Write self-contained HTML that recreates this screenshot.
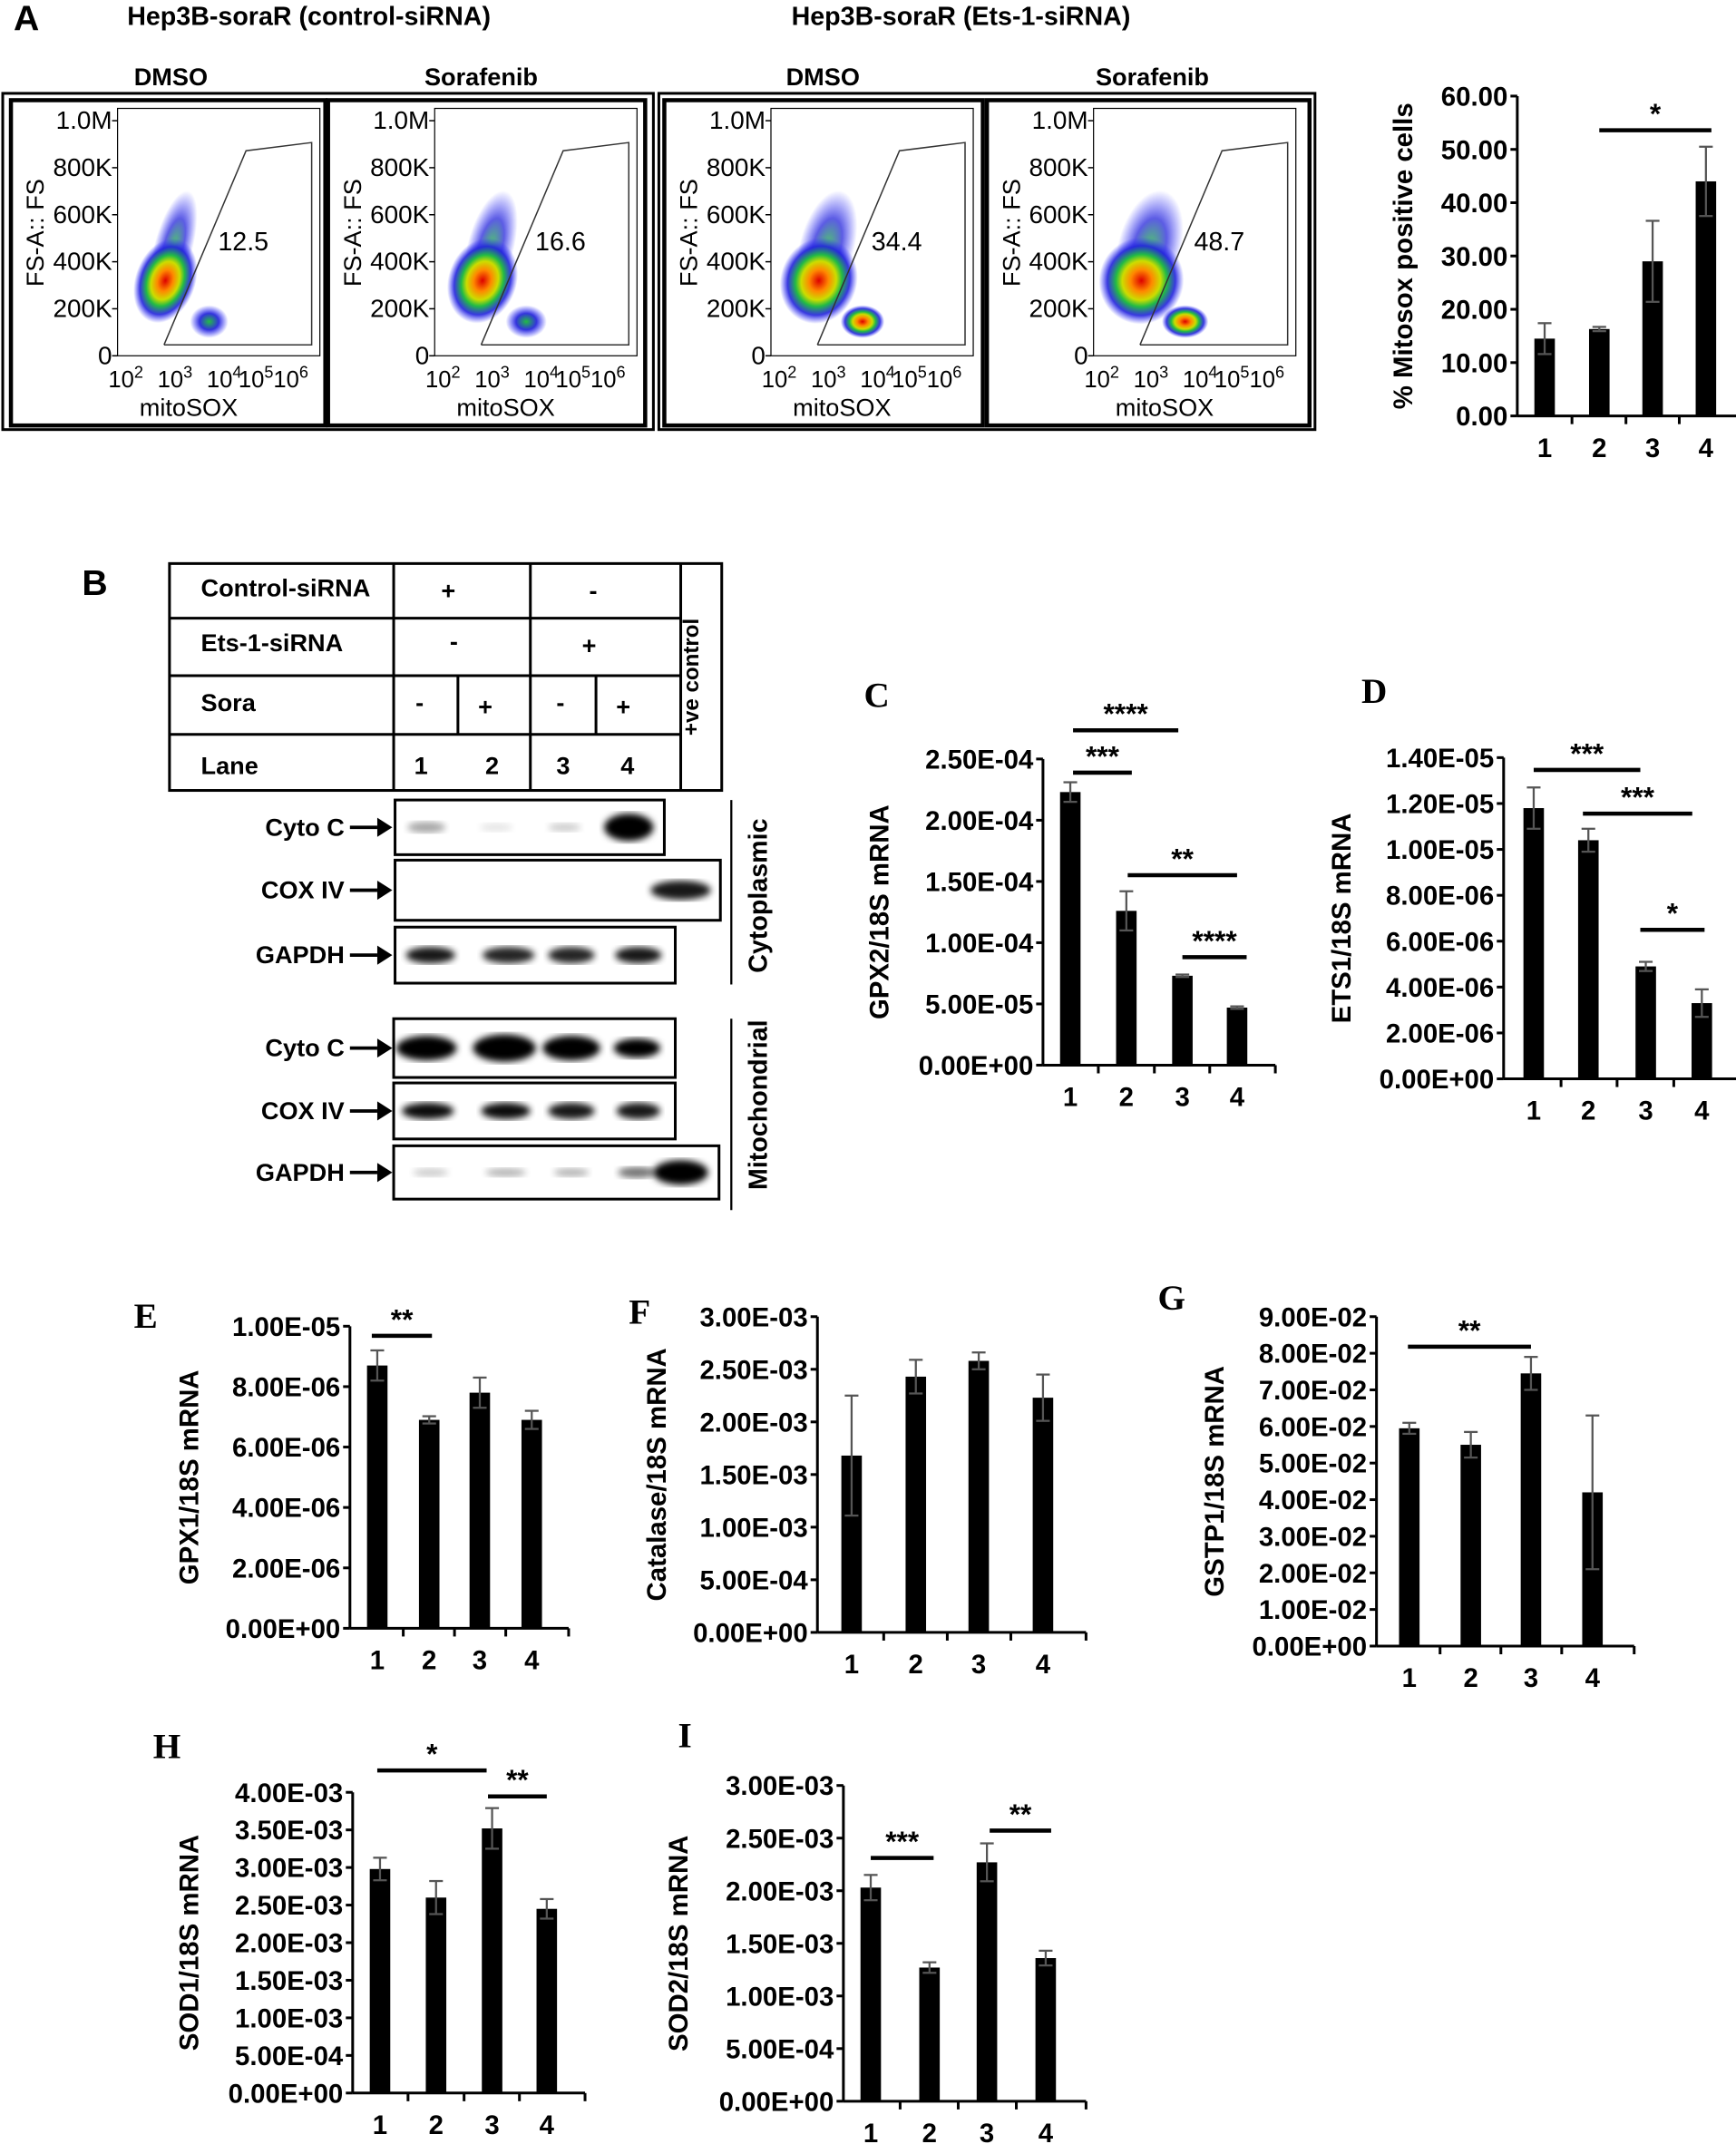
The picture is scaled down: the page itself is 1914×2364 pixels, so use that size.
<!DOCTYPE html>
<html><head><meta charset="utf-8"><style>html,body{margin:0;padding:0;background:#fff;}svg{display:block}</style></head>
<body>
<svg id="s" xmlns="http://www.w3.org/2000/svg" width="1914" height="2364" viewBox="0 0 1270 1568" font-family="Liberation Sans, Arial, sans-serif">
<defs>
<radialGradient id="blob"><stop offset="0" stop-color="#d00"/><stop offset="0.25" stop-color="#f80"/><stop offset="0.45" stop-color="#cd0"/><stop offset="0.6" stop-color="#2b4"/><stop offset="0.8" stop-color="#22d" stop-opacity="0.9"/><stop offset="1" stop-color="#33f" stop-opacity="0"/></radialGradient>
<radialGradient id="blob2"><stop offset="0" stop-color="#2b4"/><stop offset="0.5" stop-color="#33d"/><stop offset="1" stop-color="#33f" stop-opacity="0"/></radialGradient>
<filter id="bl"><feGaussianBlur stdDeviation="2.5"/></filter>
</defs>
<g id="g"></g>
</svg>
<script>
var o='';
function T(x,y,t,sz,opt){opt=opt||{};o+='<text x="'+x+'" y="'+y+'" font-size="'+sz+'" text-anchor="'+(opt.a||'middle')+'"'+(opt.b===false?'':' font-weight="bold"')+(opt.f?' font-family="'+opt.f+'"':'')+(opt.r?' transform="rotate(-90 '+x+' '+y+')"':'')+'>'+t+'</text>';}
function L(x1,y1,x2,y2,w,c){o+='<line x1="'+x1+'" y1="'+y1+'" x2="'+x2+'" y2="'+y2+'" stroke="'+(c||'#000')+'" stroke-width="'+(w||1)+'"/>';}
function R(x,y,w,h,sw,fill){o+='<rect x="'+x+'" y="'+y+'" width="'+w+'" height="'+h+'" fill="'+(fill||'none')+'" stroke="'+(sw?'#000':'none')+'" stroke-width="'+(sw||0)+'"/>';}
// Panel A
T(10,22,'A',26,{a:'start'});
T(226,18,'Hep3B-soraR (control-siRNA)',19);
T(703,18,'Hep3B-soraR (Ets-1-siRNA)',19);
T(125,62,'DMSO',18);T(352,62,'Sorafenib',18);T(602,62,'DMSO',18);T(843,62,'Sorafenib',18);
R(2,68,476,246,2);R(482,68,480,246,2);
var flows=[[8,238,'12.5',0],[240,472,'16.6',1],[486,719,'34.4',2],[722,958,'48.7',3]];
flows.forEach(function(f){
 var x0=f[0];R(x0,73,f[1]-x0,238,3);
 var ax=x0+78, fr=x0+226;
 R(ax,79,fr-ax,181,0.8);
 var labs=['1.0M','800K','600K','400K','200K','0'];
 for(var i=0;i<6;i++){var y=88+i*34.4;T(ax-4,y+6,labs[i],18.5,{a:'end',b:false});L(ax-4,y,ax,y,1);}
 T(x0+24,170,'FS-A:: FS',18,{r:1,b:false});
 var bx=ax+35, k=f[3];
 o+='<ellipse cx="'+(bx+6)+'" cy="180" rx="'+(14+k*3)+'" ry="42" fill="url(#blob2)" opacity="0.8" transform="rotate(15 '+(bx+6)+' 180)"/>';
 o+='<ellipse cx="'+bx+'" cy="205" rx="'+(22+k*3)+'" ry="32" fill="url(#blob)" transform="rotate(20 '+bx+' 205)"/>';
 o+='<ellipse cx="'+(bx+32)+'" cy="235" rx="'+(14+k)+'" ry="12" fill="url('+(k>=2?'#blob':'#blob2')+')"/>';
 var gx=ax+34;
 o+='<polyline points="'+gx+',252 '+(gx+60)+',110 '+(fr-6)+',104 '+(fr-6)+',252 '+gx+',252" fill="none" stroke="#333" stroke-width="1"/>';
 T(gx+58,183,f[2],19,{b:false});
 T(ax+6,283,'10<tspan font-size="12" dy="-7">2</tspan>',17,{b:false});
 T(ax+42,283,'10<tspan font-size="12" dy="-7">3</tspan>',17,{b:false});
 T(ax+78,283,'10<tspan font-size="12" dy="-7">4</tspan>',17,{b:false});
 T(ax+114,283,'10<tspan font-size="12" dy="-7">5</tspan><tspan dy="7">10</tspan><tspan font-size="12" dy="-7">6</tspan>',17,{b:false});
 T(ax+52,304,'mitoSOX',18,{b:false});
});
function bar(p){
 var ax=p.ax,top=p.top,bot=p.bot,n=p.labs.length-1,step=(bot-top)/n;
 L(ax,top,ax,bot,2);
 for(var i=0;i<=n;i++){var y=top+i*step;L(ax-5,y,ax,y,2);T(ax-7,y+7,p.labs[i],p.fs||19.5,{a:'end'});}
 var xs=p.xs,end=xs[3]+(xs[3]-xs[2])/2+8;L(ax,bot,end,bot,2);
 for(var j=0;j<4;j++){var mid=j<3?(xs[j]+xs[j+1])/2:end;L(mid,bot,mid,bot+6,2);}
 for(var j=0;j<4;j++){var h=p.v[j]/p.max*(bot-top);R(xs[j]-7.5,bot-h,15,h,0,'#000');
  var e=p.e[j]/p.max*(bot-top),yt=bot-h-e,yb=bot-h+e;L(xs[j],yt,xs[j],yb,1.5,'#555');L(xs[j]-5,yt,xs[j]+5,yt,1.5,'#555');L(xs[j]-5,yb,xs[j]+5,yb,1.5,'#555');
  T(xs[j],p.xl,String(j+1),19.5);}
 T(p.yx,(top+bot)/2,p.yl,19.5,{r:1});
 (p.sig||[]).forEach(function(s){L(s[0],s[2],s[1],s[2],3);T((s[0]+s[1])/2,s[2]-5,s[3],21);});
 if(p.letter)T(p.letter[0],p.letter[1],p.letter[2],26,{a:'start',f:'Liberation Serif'});
}
bar({ax:1110,top:70,bot:304,labs:['60.00','50.00','40.00','30.00','20.00','10.00','0.00'],xs:[1130,1170,1209,1248],max:60,v:[14.5,16.3,29,44],e:[2.9,0.4,7.6,6.5],xl:334,yx:1033,yl:'% Mitosox positive cells',sig:[[1170,1252,95,'*']]});
// Panel B
T(60,435,'B',26,{a:'start'});
R(124,412,404,166,2);
[452,494,537].forEach(function(y){L(124,y,498,y,2);});
L(288,412,288,578,2);L(388,412,388,578,2);L(498,412,498,578,2);L(335,494,335,537,2);L(436,494,436,537,2);
T(147,436,'Control-siRNA',18,{a:'start'});T(147,476,'Ets-1-siRNA',18,{a:'start'});T(147,520,'Sora',18,{a:'start'});T(147,566,'Lane',18,{a:'start'});
T(328,438,'+',18);T(434,438,'-',18);T(332,475,'-',18);T(431,478,'+',18);T(307,520,'-',18);T(355,523,'+',18);T(410,520,'-',18);T(456,523,'+',18);
T(308,566,'1',18);T(360,566,'2',18);T(412,566,'3',18);T(459,566,'4',18);
T(511,495,'+ve control',16,{r:1});
function blot(lbl,x,y,w,h,bands){
 R(x,y,w,h,2);
 T(252,y+h/2+6,lbl,18,{a:'end'});
 L(256,y+h/2,276,y+h/2,2.5);o+='<polygon points="276,'+(y+h/2-7)+' 287,'+(y+h/2)+' 276,'+(y+h/2+7)+'" fill="#000"/>';
 bands.forEach(function(b){o+='<ellipse cx="'+b[0]+'" cy="'+(y+h/2+(b[4]||0))+'" rx="'+b[1]+'" ry="'+b[2]+'" fill="#000" opacity="'+b[3]+'" filter="url(#bl)"/>';});
}
blot('Cyto C',289,585,197,40,[[312,14,4,0.35],[363,12,3,0.1],[413,12,3,0.2],[460,18,10,1]]);
blot('COX IV',289,629,238,44,[[498,22,7,0.9,0]]);
blot('GAPDH',289,678,205,41,[[315,18,6,0.9],[372,19,6,0.85],[418,17,6,0.85],[467,17,6,0.9]]);
blot('Cyto C',288,745,206,43,[[312,22,9,1],[369,23,10,1],[418,21,9,1],[466,17,7,1]]);
blot('COX IV',288,792,206,41,[[313,19,6,0.95],[370,18,6,0.95],[418,17,6,0.9],[467,16,6,0.9]]);
blot('GAPDH',288,838,238,39,[[315,13,3,0.2],[370,15,3,0.3],[418,13,3,0.3],[466,14,4,0.55],[498,20,9,1]]);
L(535,585,535,720,1.5);L(535,745,535,885,1.5);
T(561,655,'Cytoplasmic',19,{r:1});T(561,808,'Mitochondrial',19,{r:1});
bar({ax:763,top:555,bot:779,labs:['2.50E-04','2.00E-04','1.50E-04','1.00E-04','5.00E-05','0.00E+00'],xs:[783,824,865,905],max:2.5,v:[2.23,1.26,0.73,0.47],e:[0.08,0.16,0.01,0.01],xl:809,yx:650,yl:'GPX2/18S mRNA',sig:[[785,828,565,'***'],[785,862,534,'****'],[825,905,640,'**'],[865,912,700,'****']],letter:[632,517,'C']});
bar({ax:1100,top:554,bot:789,labs:['1.40E-05','1.20E-05','1.00E-05','8.00E-06','6.00E-06','4.00E-06','2.00E-06','0.00E+00'],xs:[1122,1162,1204,1245],max:14,v:[11.8,10.4,4.9,3.3],e:[0.9,0.5,0.2,0.6],xl:819,yx:988,yl:'ETS1/18S mRNA',sig:[[1122,1200,563,'***'],[1158,1238,595,'***'],[1200,1247,680,'*']],letter:[996,514,'D']});
bar({ax:256,top:970,bot:1191,labs:['1.00E-05','8.00E-06','6.00E-06','4.00E-06','2.00E-06','0.00E+00'],xs:[276,314,351,389],max:10,v:[8.7,6.9,7.8,6.9],e:[0.5,0.12,0.5,0.3],xl:1221,yx:145,yl:'GPX1/18S mRNA',sig:[[272,316,977,'**']],letter:[98,971,'E']});
bar({ax:598,top:963,bot:1194,labs:['3.00E-03','2.50E-03','2.00E-03','1.50E-03','1.00E-03','5.00E-04','0.00E+00'],xs:[623,670,716,763],max:3,v:[1.68,2.43,2.58,2.23],e:[0.57,0.16,0.08,0.22],xl:1224,yx:487,yl:'Catalase/18S mRNA',letter:[460,968,'F']});
bar({ax:1007,top:963,bot:1204,labs:['9.00E-02','8.00E-02','7.00E-02','6.00E-02','5.00E-02','4.00E-02','3.00E-02','2.00E-02','1.00E-02','0.00E+00'],xs:[1031,1076,1120,1165],max:9,v:[5.95,5.5,7.45,4.2],e:[0.15,0.35,0.45,2.1],xl:1234,yx:895,yl:'GSTP1/18S mRNA',sig:[[1030,1120,985,'**']],letter:[847,958,'G']});
bar({ax:258,top:1311,bot:1531,labs:['4.00E-03','3.50E-03','3.00E-03','2.50E-03','2.00E-03','1.50E-03','1.00E-03','5.00E-04','0.00E+00'],xs:[278,319,360,400],max:4,v:[2.98,2.6,3.52,2.45],e:[0.15,0.22,0.27,0.13],xl:1561,yx:145,yl:'SOD1/18S mRNA',sig:[[276,356,1295,'*'],[357,400,1314,'**']],letter:[112,1286,'H']});
bar({ax:617,top:1306,bot:1537,labs:['3.00E-03','2.50E-03','2.00E-03','1.50E-03','1.00E-03','5.00E-04','0.00E+00'],xs:[637,680,722,765],max:3,v:[2.03,1.27,2.27,1.36],e:[0.12,0.05,0.18,0.07],xl:1567,yx:503,yl:'SOD2/18S mRNA',sig:[[637,683,1359,'***'],[724,769,1339,'**']],letter:[496,1278,'I']});
document.getElementById('g').innerHTML=o;
</script>
</body></html>
